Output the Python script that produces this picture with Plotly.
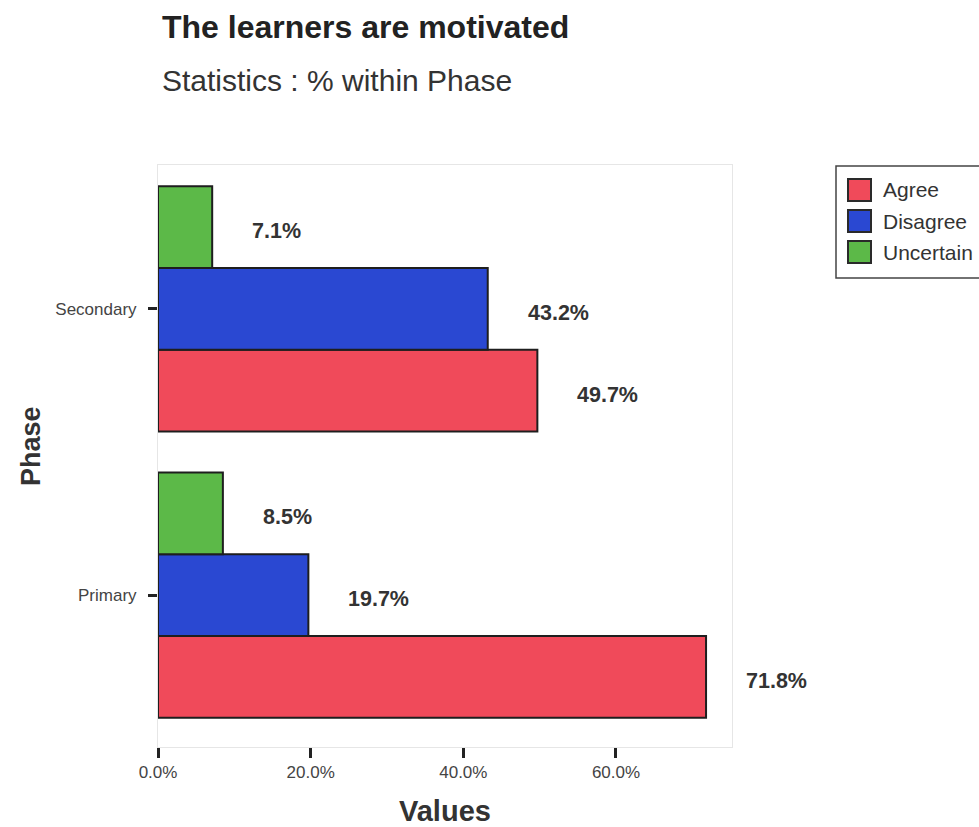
import plotly.graph_objects as go

phases = ["Primary", "Secondary"]
series_names = ["Agree", "Disagree", "Uncertain"]
agree = [71.8, 49.7]
disagree = [19.7, 43.2]
uncertain = [8.5, 7.1]
x_ticks = [0, 20, 40, 60]
x_tick_labels = ["0.0%", "20.0%", "40.0%", "60.0%"]

colors = ["#F04A5A", "#2A48D2", "#5CB948"]
values = [agree, disagree, uncertain]

FONT = "Liberation Sans, Arial, sans-serif"
bargap = 0.143

# plot area in pixels (for converting legend/title placement)
L, R, T, B = 158, 732, 165, 747
W_PX, H_PX = R - L, B - T


def px_x(p):
    return (p - L) / W_PX


def px_y(p):
    return (B - p) / H_PX


fig = go.Figure()
for name, vals, col in zip(series_names, values, colors):
    fig.add_trace(go.Bar(
        y=phases, x=vals, name=name, orientation="h",
        marker=dict(color=col, line=dict(color="#1e1e1e", width=2)),
        showlegend=False,
    ))

# value labels
group_w = 1 - bargap
bar_w = group_w / len(series_names)
annots = []
for i, vals in enumerate(values):
    off = -group_w / 2 + bar_w * (i + 0.5)
    for j, v in enumerate(vals):
        annots.append(dict(
            x=v, y=j + off, xref="x", yref="y", text=f"<b>{v:.1f}%</b>",
            showarrow=False, xanchor="left", yanchor="middle", xshift=38, yshift=-4,
            font=dict(family=FONT, size=21.5, color="#333333"),
        ))

annots += [
    dict(text="<b>The learners are motivated</b>", xref="paper", yref="paper",
         x=px_x(160), y=px_y(27), xanchor="left", yanchor="middle",
         showarrow=False, font=dict(family=FONT, size=32, color="#222222")),
    dict(text="Statistics : % within Phase", xref="paper", yref="paper",
         x=px_x(160), y=px_y(80), xanchor="left", yanchor="middle",
         showarrow=False, font=dict(family=FONT, size=30, color="#333333")),
    dict(text="<b>Values</b>", xref="paper", yref="paper", x=px_x(445), y=px_y(811),
         xanchor="center", yanchor="middle", showarrow=False,
         font=dict(family=FONT, size=29, color="#333333")),
    dict(text="<b>Phase</b>", xref="paper", yref="paper", x=px_x(31), y=px_y(446),
         xanchor="center", yanchor="middle", showarrow=False,
         textangle=-90, font=dict(family=FONT, size=27, color="#333333")),
]

# manual legend (box + swatches + labels)
shapes = [dict(type="rect", xref="paper", yref="paper",
               x0=px_x(836), x1=px_x(1000), y0=px_y(278), y1=px_y(166),
               line=dict(color="#444444", width=1.5), fillcolor="white", layer="below")]
row_y = [190, 221, 252]
for name, col, ry in zip(series_names, colors, row_y):
    shapes.append(dict(type="rect", xref="paper", yref="paper",
                       x0=px_x(848), x1=px_x(871), y0=px_y(ry + 11), y1=px_y(ry - 11),
                       line=dict(color="#2a2a2a", width=2), fillcolor=col))
    annots.append(dict(text=name, xref="paper", yref="paper", x=px_x(881), y=px_y(ry),
                       xanchor="left", yanchor="middle", showarrow=False,
                       font=dict(family=FONT, size=21, color="#333333")))

fig.update_layout(
    width=979, height=827,
    margin=dict(l=L, r=979 - R, t=T, b=827 - B),
    paper_bgcolor="white", plot_bgcolor="white",
    barmode="group", bargap=bargap, bargroupgap=0,
    font=dict(family=FONT, color="#333333"),
    showlegend=False,
    annotations=annots,
    shapes=shapes,
    xaxis=dict(range=[0, 75.2], tickvals=x_ticks, ticktext=x_tick_labels,
               showgrid=False, zeroline=False, showline=True, linecolor="#e6e6e6",
               linewidth=1, mirror=True, ticks="outside", ticklen=10, tickwidth=3,
               tickcolor="#222222", tickfont=dict(family=FONT, size=17, color="#444444")),
    yaxis=dict(range=[-0.531, 1.503], showgrid=False, zeroline=False, showline=True,
               linecolor="#e6e6e6", linewidth=1, mirror=True, ticks="outside",
               ticklen=9, tickwidth=3, tickcolor="#222222", ticklabelstandoff=8,
               tickfont=dict(family=FONT, size=17, color="#444444")),
)

fig.write_html("out.html")
